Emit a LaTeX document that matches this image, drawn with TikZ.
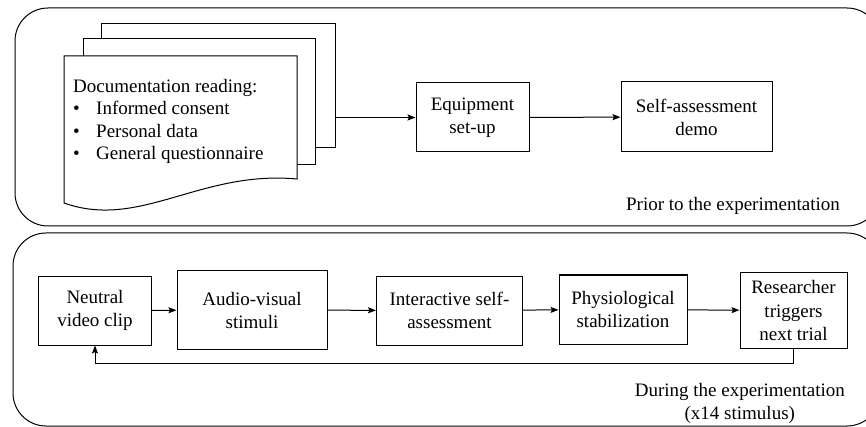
\documentclass[tikz,border=0pt]{standalone}
\usepackage{fontspec}
\setmainfont{Liberation Serif}
\usetikzlibrary{arrows.meta,calc}

\tikzset{
  phase/.style={draw, line width=1pt, rounded corners=33pt},
  stepbox/.style={draw, line width=1pt, fill=white, align=center, inner sep=2pt,
    font=\fontsize{19}{23}\selectfont},
  sheet/.style={draw, line width=1pt, fill=white, inner sep=0pt},
  arr/.style={line width=1pt, -{Stealth[length=8pt,width=6pt,inset=1.5pt]}},
  caption/.style={inner sep=0pt, align=center, font=\fontsize{19}{23}\selectfont},
}

\begin{document}
\begin{tikzpicture}[x=1pt,y=-1pt]
  \useasboundingbox (0,0) rectangle (866,427);
  \clip (0,0) rectangle (866,427);

  % phase containers
  \draw[phase] (15,8) rectangle (880,226);
  \draw[phase] (13,233) rectangle (880,426);

  % stacked documents
  \node[sheet, minimum width=234pt, minimum height=124pt] (p3) at (218,86) {};
  \node[sheet, minimum width=232pt, minimum height=126pt] (p2) at (199,102) {};
  \draw[line width=1pt, fill=white] (64,56) -- (297,56) -- (297,179)
    .. controls (200,170) and (140,230) .. (64,203) -- cycle;
  \node[anchor=north west, inner sep=0pt, align=left,
        font=\fontsize{19}{22.5}\selectfont] (doc) at (73,79)
    {Documentation reading:\\
     \makebox[23pt][l]{•}Informed consent\\
     \makebox[23pt][l]{•}Personal data\\
     \makebox[23pt][l]{•}General questionnaire};

  % preparation steps
  \node[stepbox, minimum width=113pt, minimum height=69pt] (eq) at (472.5,117.5)
    {Equipment\\set-up};
  \node[stepbox, minimum width=151pt, minimum height=70pt] (demo) at (696.5,117)
    {Self-assessment\\demo};
  \draw[arr] (p3.east |- eq) -- (eq);
  \draw[arr] (eq) -- (demo);
  \node[caption, anchor=east] (prior) at (840,206) {Prior to the experimentation};

  % trial loop
  \node[stepbox, minimum width=113pt, minimum height=69pt] (neutral) at (95,310.5)
    {Neutral\\video clip};
  \node[stepbox, minimum width=150pt, minimum height=78pt] (av) at (252,310)
    {Audio-visual\\stimuli};
  \node[stepbox, minimum width=146pt, minimum height=69pt] (inter) at (449.5,310.5)
    {Interactive self-\\assessment};
  \node[stepbox, minimum width=128pt, minimum height=69pt] (phys) at (623,309.5)
    {Physiological\\stabilization};
  \node[stepbox, minimum width=107pt, minimum height=75pt] (res) at (793.5,310.5)
    {Researcher\\triggers\\next trial};
  \draw[arr] (neutral) -- (av);
  \draw[arr] (av) -- (inter);
  \draw[arr] (inter) -- (phys);
  \draw[arr] (phys) -- (res);
  \coordinate (loop) at (0,363);
  \draw[arr] (res.south) |- (neutral.south |- loop) -- (neutral.south);
  \node[caption, anchor=east] (during) at (845,403)
    {During the experimentation\\(x14 stimulus)};
\end{tikzpicture}
\end{document}
